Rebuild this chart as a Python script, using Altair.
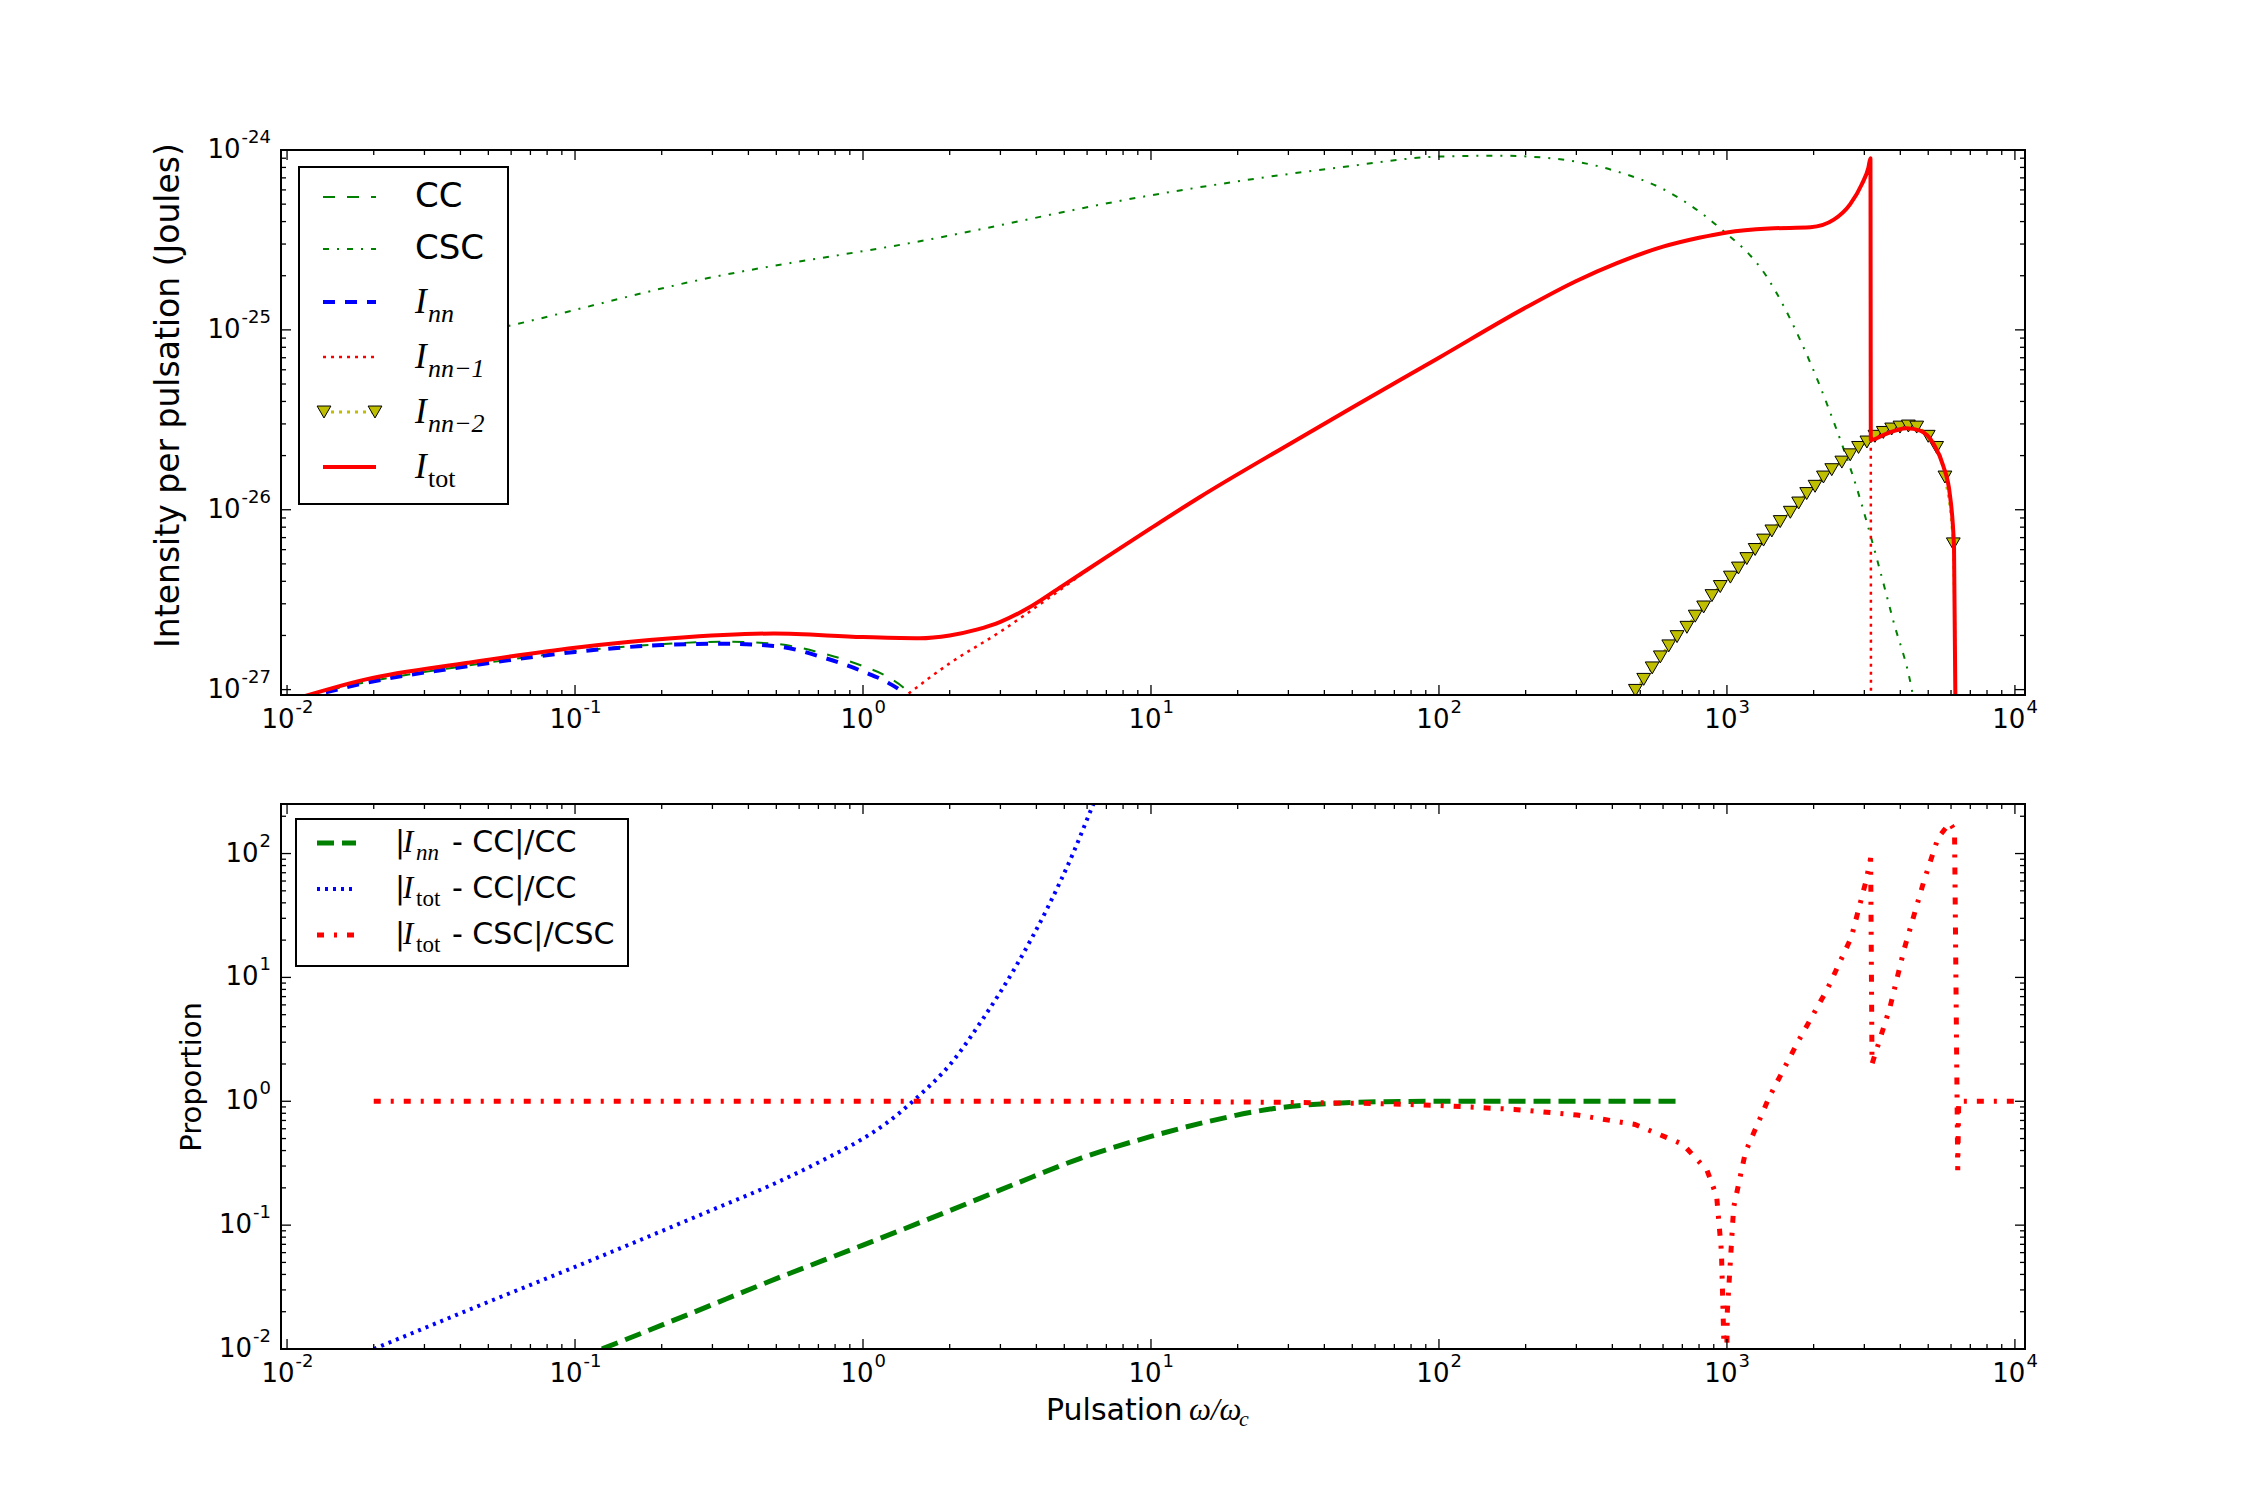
import altair as alt
import pandas as pd

# ---------------- data ----------------
# Upper panel : intensity per pulsation (J) vs omega/omega_c
CC_X = [0.0115, 0.0188, 0.0425, 0.1, 0.2, 0.326, 0.49, 0.736, 1.0, 1.225, 1.44, 1.6]
CC_Y = [9.2e-28, 1.10e-27, 1.36e-27, 1.63e-27, 1.79e-27, 1.845e-27, 1.80e-27, 1.58e-27,
        1.35e-27, 1.17e-27, 9.6e-28, 7.5e-28]

CSC_X = [0.03, 0.057, 0.29, 1.56, 10, 45, 101, 160, 244, 415, 620, 923, 1376, 1845,
         2345, 2824, 3310, 3785, 4384, 4700]
CSC_Y = [8.3e-26, 1.04e-25, 1.94e-25, 3.1e-25, 5.6e-25, 8.0e-25, 9.2e-25, 9.3e-25, 9.0e-25,
         7.6e-25, 5.9e-25, 3.8e-25, 1.97e-25, 8.0e-26, 3.1e-26, 1.32e-26, 5.4e-27, 2.4e-27,
         1.0e-27, 5.0e-28]

INN_X = [0.0115, 0.0188, 0.0425, 0.1, 0.2, 0.326, 0.49, 0.736, 1.0, 1.225, 1.39, 1.5]
INN_Y = [9.0e-28, 1.09e-27, 1.35e-27, 1.62e-27, 1.77e-27, 1.80e-27, 1.75e-27, 1.50e-27,
         1.26e-27, 1.09e-27, 9.5e-28, 8.3e-28]

INN1_X = [1.44, 2.0, 3.0, 4.5, 6.0, 7.0, 10, 14.7, 30, 50, 100, 200, 300, 415, 600, 800,
          1000, 1400, 1950, 2350, 2680, 2940, 3100, 3150, 3165]
INN1_Y = [9.5e-28, 1.4e-27, 2.1e-27, 3.3e-27, 4.6e-27, 5.45e-27, 7.9e-27, 1.17e-26, 2.3e-26,
          3.7e-26, 7.0e-26, 1.33e-25, 1.87e-25, 2.35e-25, 2.9e-25, 3.25e-25, 3.48e-25,
          3.66e-25, 3.72e-25, 4.1e-25, 5.0e-25, 6.45e-25, 8.0e-25, 9.0e-25, 1e-28]

INN2_X = [481, 514, 550, 587, 628, 671, 726, 776, 830, 887, 948, 1028, 1096, 1172, 1253,
          1340, 1432, 1531, 1660, 1774, 1892, 2023, 2163, 2312, 2506, 2679, 2864, 3062,
          3266, 3491, 3733, 3990, 4266, 4560, 5000, 5346, 5715, 6109, 6290]
INN2_Y = [9.9e-28, 1.14e-27, 1.32e-27, 1.52e-27, 1.75e-27, 1.97e-27, 2.22e-27, 2.56e-27,
          2.88e-27, 3.33e-27, 3.74e-27, 4.22e-27, 4.74e-27, 5.35e-27, 6.01e-27, 6.78e-27,
          7.62e-27, 8.59e-27, 9.68e-27, 1.09e-26, 1.23e-26, 1.35e-26, 1.52e-26, 1.67e-26,
          1.84e-26, 2.02e-26, 2.22e-26, 2.38e-26, 2.56e-26, 2.69e-26, 2.81e-26, 2.88e-26,
          2.92e-26, 2.88e-26, 2.56e-26, 2.22e-26, 1.52e-26, 6.46e-27, 1e-28]

TOT_X = [0.0115, 0.0188, 0.0425, 0.1, 0.217, 0.49, 1.0, 1.57, 2.0, 2.5, 3.0, 3.76, 4.9, 7.0,
         10, 14.7, 30, 50, 100, 200, 300, 415, 600, 800, 1000, 1400, 1950, 2350, 2680, 2940,
         3100, 3150, 3160, 3490, 4205, 4690, 5210, 5640, 5950, 6145, 6290]
TOT_Y = [9.2e-28, 1.14e-27, 1.41e-27, 1.71e-27, 1.93e-27, 2.05e-27, 1.96e-27, 1.93e-27,
         2.0e-27, 2.16e-27, 2.38e-27, 2.85e-27, 3.75e-27, 5.45e-27, 7.9e-27, 1.17e-26,
         2.3e-26, 3.7e-26, 7.0e-26, 1.33e-25, 1.87e-25, 2.35e-25, 2.9e-25, 3.25e-25,
         3.48e-25, 3.66e-25, 3.72e-25, 4.1e-25, 5.0e-25, 6.45e-25, 8.0e-25, 9.0e-25,
         2.44e-26, 2.6e-26, 2.84e-26, 2.75e-26, 2.33e-26, 1.75e-26, 1.2e-26, 6.2e-27, 1e-28]

# Lower panel : relative differences
R_NN_CC_X = [0.124, 0.25, 0.5, 1.0, 2.0, 3.39, 5.66, 10, 15.8, 26.4, 44, 73.5, 120, 667]
R_NN_CC_Y = [0.01, 0.0192, 0.037, 0.069, 0.131, 0.216, 0.345, 0.52, 0.686, 0.87, 0.966,
             0.995, 1.0, 1.0]

R_TOT_CC_X = [0.02, 0.05, 0.1, 0.3, 0.5, 0.727, 1.0, 1.2, 1.49, 2.03, 2.62, 3.39, 4.38,
              5.38, 6.27, 6.6]
R_TOT_CC_Y = [0.01, 0.024, 0.046, 0.133, 0.22, 0.335, 0.5, 0.66, 1.0, 2.05, 4.7, 12.2,
              36.7, 102, 242, 320]

R_TOT_CSC_X = [0.02, 10, 30, 60, 100, 183, 302, 479, 703, 853, 921, 957, 976, 990, 1003,
               1055, 1160, 1405, 1771, 2229, 2702, 3035, 3155, 3190, 3680, 4130, 4820, 5410,
               5945, 6170, 6330, 6380, 10500]
R_TOT_CSC_Y = [1.0, 1.0, 0.98, 0.96, 0.925, 0.86, 0.775, 0.65, 0.45, 0.277, 0.171, 0.061,
               0.011, 0.002, 0.02, 0.139, 0.39, 1.09, 3.07, 8.0, 21, 59, 92, 2.0, 5.7, 17.1,
               59, 134, 177, 154, 0.277, 1.0, 1.0]

# axis decades (tick labels are 10^decade)
X_DECADES = [-2, -1, 0, 1, 2, 3, 4]
Y_TOP_DECADES = [-27, -26, -25, -24]
Y_BOT_DECADES = [-2, -1, 0, 1, 2]

# ---------------- styling / layout ----------------
W, H = 1744, 545
X_DOMAIN = [10 ** -2.021, 10 ** 4.035]
Y_TOP_DOMAIN = [10 ** -27.03, 1e-24]
Y_BOT_DOMAIN = [1e-2, 10 ** 2.4]

GREEN, BLUE, RED, OLIVE = "#008000", "#0000ff", "#ff0000", "#bfbf00"
SANS, SERIF = "DejaVu Sans", "Liberation Serif"
ONE = pd.DataFrame({"k": [0]})
LAB, EXP = 26, 18          # tick label sizes (mantissa, exponent)

XS = alt.Scale(type="log", domain=X_DOMAIN, nice=False)
YS_T = alt.Scale(type="log", domain=Y_TOP_DOMAIN, nice=False)
YS_B = alt.Scale(type="log", domain=Y_BOT_DOMAIN, nice=False)


def minor_ticks(decades, lo, hi):
    vals = []
    for e in range(decades[0] - 1, decades[-1] + 1):
        for m in range(2, 10):
            v = m * 10.0 ** e
            if lo <= v <= hi:
                vals.append(v)
    return vals


X_AXIS = alt.Axis(labels=False, ticks=False, domain=False, grid=False, title=None)


def y_axis(title, size, pad, extent, title_y=None):
    kw = dict(labels=False, ticks=False, domain=False, grid=False, title=title, titleFont=SANS,
              titleFontSize=size, titleFontWeight="normal", titleColor="black",
              titlePadding=pad, minExtent=extent, maxExtent=extent)
    if title_y is not None:
        kw["titleY"] = title_y
    return alt.Axis(**kw)


Y_AXIS_T = y_axis("Intensity per pulsation (Joules)", 33, 20, 76, title_y=245)
Y_AXIS_B = y_axis("Proportion", 29, 15, 60)


def curve(xv, yv, ys, ya, color, width, dash=None, interp="monotone"):
    kw = dict(color=color, strokeWidth=width, clip=True, interpolate=interp)
    if dash:
        kw["strokeDash"] = dash
    return alt.Chart(pd.DataFrame({"x": xv, "y": yv})).mark_line(**kw).encode(
        x=alt.X("x:Q", scale=XS, axis=X_AXIS), y=alt.Y("y:Q", scale=ys, axis=ya))


def tick_layers(ys, ya, ydec, ydom):
    out = []
    xmaj = pd.DataFrame({"v": [10.0 ** e for e in X_DECADES]})
    xmin = pd.DataFrame({"v": minor_ticks(X_DECADES, *X_DOMAIN)})
    ymaj = pd.DataFrame({"v": [10.0 ** e for e in ydec]})
    ymin = pd.DataFrame({"v": minor_ticks(ydec, *ydom)})
    for d, L in ((xmaj, 10), (xmin, 5)):
        b = alt.Chart(d).mark_rule(color="black", strokeWidth=1.3)
        out.append(b.encode(x=alt.X("v:Q", scale=XS, axis=X_AXIS), y=alt.value(H - L), y2=alt.value(H)))
        out.append(b.encode(x=alt.X("v:Q", scale=XS, axis=X_AXIS), y=alt.value(0), y2=alt.value(L)))
    for d, L in ((ymaj, 10), (ymin, 5)):
        b = alt.Chart(d).mark_rule(color="black", strokeWidth=1.3)
        out.append(b.encode(y=alt.Y("v:Q", scale=ys, axis=ya), x=alt.value(0), x2=alt.value(L)))
        out.append(b.encode(y=alt.Y("v:Q", scale=ys, axis=ya), x=alt.value(W - L), x2=alt.value(W)))
    return out


def exp_frame(decs, keep):
    sel = [e for e in decs if keep(e)]
    return pd.DataFrame({"v": [10.0 ** e for e in sel], "e": [str(e) for e in sel]})


def x_labels():
    out = []
    for keep, dxb in ((lambda e: e < 0, 7.5), (lambda e: e >= 0, 10.5)):
        d = exp_frame(X_DECADES, keep)
        out.append(alt.Chart(d).mark_text(text="10", font=SANS, fontSize=LAB, align="right",
                                          baseline="middle", dx=dxb, color="black").encode(
            x=alt.X("v:Q", scale=XS, axis=X_AXIS), y=alt.value(H + 25)))
        out.append(alt.Chart(d).mark_text(font=SANS, fontSize=EXP, align="left", baseline="middle",
                                          dx=dxb + 1, color="black").encode(
            x=alt.X("v:Q", scale=XS, axis=X_AXIS), y=alt.value(H + 13), text="e:N"))
    return out


def y_labels(decs, ys, ya):
    out = []
    for keep, wexp in ((lambda e: e <= -10, 29.5), (lambda e: -10 < e < 0, 18), (lambda e: e >= 0, 11.5)):
        d = exp_frame(decs, keep)
        if len(d) == 0:
            continue
        out.append(alt.Chart(d).mark_text(text="10", font=SANS, fontSize=LAB, align="right",
                                          baseline="middle", color="black").encode(
            y=alt.Y("v:Q", scale=ys, axis=ya), x=alt.value(-11 - wexp)))
        out.append(alt.Chart(d).mark_text(font=SANS, fontSize=EXP, align="right", baseline="middle",
                                          dy=-12, color="black").encode(
            y=alt.Y("v:Q", scale=ys, axis=ya), x=alt.value(-10), text="e:N"))
    return out


def frame():
    return alt.Chart(ONE).mark_rect(fill="white", fillOpacity=0, stroke="black", strokeWidth=2).encode(
        x=alt.value(0), x2=alt.value(W), y=alt.value(0), y2=alt.value(H))


def box(x1, y1, x2, y2):
    return alt.Chart(ONE).mark_rect(fill="white", stroke="black", strokeWidth=2).encode(
        x=alt.value(x1), x2=alt.value(x2), y=alt.value(y1), y2=alt.value(y2))


def sample(x1, x2, y, color, width, dash=None):
    kw = dict(color=color, strokeWidth=width)
    if dash:
        kw["strokeDash"] = dash
    return alt.Chart(ONE).mark_rule(**kw).encode(x=alt.value(x1), x2=alt.value(x2), y=alt.value(y))


def txt(s, x, y, size, font=SANS, style="normal"):
    return alt.Chart(ONE).mark_text(text=s, font=font, fontSize=size, fontStyle=style,
                                    align="left", baseline="middle", color="black").encode(
        x=alt.value(x), y=alt.value(y))


def tri(x, y):
    return alt.Chart(ONE).mark_point(shape="triangle-down", filled=True, fill=OLIVE, stroke="black",
                                     strokeWidth=1, size=190, opacity=1).encode(
        x=alt.value(x), y=alt.value(y))


# ---------------- upper panel ----------------
inn2_markers = alt.Chart(pd.DataFrame({"x": INN2_X[:-1], "y": INN2_Y[:-1]})).mark_point(
    shape="triangle-down", filled=True, fill=OLIVE, stroke="black", strokeWidth=1, size=190,
    opacity=1, clip=True).encode(x=alt.X("x:Q", scale=XS, axis=X_AXIS),
                                 y=alt.Y("y:Q", scale=YS_T, axis=Y_AXIS_T))

top_layers = [
    curve(CC_X, CC_Y, YS_T, Y_AXIS_T, GREEN, 2, [12, 12]),
    curve(CSC_X, CSC_Y, YS_T, Y_AXIS_T, GREEN, 2, [6, 8, 2, 8]),
    curve(INN_X, INN_Y, YS_T, Y_AXIS_T, BLUE, 4, [12, 10]),
    curve(INN1_X, INN1_Y, YS_T, Y_AXIS_T, RED, 2.5, [3, 5]),
    curve(INN2_X, INN2_Y, YS_T, Y_AXIS_T, OLIVE, 3, [3, 5]),
    inn2_markers,
    curve(TOT_X, TOT_Y, YS_T, Y_AXIS_T, RED, 4),
]
top_layers += tick_layers(YS_T, Y_AXIS_T, Y_TOP_DECADES, Y_TOP_DOMAIN)
top_layers += x_labels() + y_labels(Y_TOP_DECADES, YS_T, Y_AXIS_T)
top_layers += [
    frame(),
    box(18, 17, 227, 354),
    sample(42, 95, 47, GREEN, 2, [12, 12]),
    sample(42, 95, 99, GREEN, 2, [6, 8, 2, 8]),
    sample(42, 95, 152, BLUE, 4, [12, 10]),
    sample(42, 95, 207, RED, 2.5, [3, 5]),
    sample(42, 95, 262, OLIVE, 3, [3, 5]),
    tri(43, 262), tri(94, 262),
    sample(42, 95, 317, RED, 4),
    txt("CC", 134, 47, 34),
    txt("CSC", 134, 99, 34),
    txt("I", 134, 152, 35, SERIF, "italic"), txt("nn", 147, 164, 26, SERIF, "italic"),
    txt("I", 134, 207, 35, SERIF, "italic"), txt("nn\u22121", 147, 219, 26, SERIF, "italic"),
    txt("I", 134, 262, 35, SERIF, "italic"), txt("nn\u22122", 147, 274, 26, SERIF, "italic"),
    txt("I", 134, 317, 35, SERIF, "italic"), txt("tot", 147, 329, 26, SERIF),
]
top = alt.layer(*top_layers).properties(width=W, height=H)

# ---------------- lower panel ----------------
bot_layers = [
    curve(R_NN_CC_X, R_NN_CC_Y, YS_B, Y_AXIS_B, GREEN, 5, [17, 8]),
    curve(R_TOT_CC_X, R_TOT_CC_Y, YS_B, Y_AXIS_B, BLUE, 4, [3, 5]),
    curve(R_TOT_CSC_X, R_TOT_CSC_Y, YS_B, Y_AXIS_B, RED, 5, [7, 10, 3, 10], interp="linear"),
]
bot_layers += tick_layers(YS_B, Y_AXIS_B, Y_BOT_DECADES, Y_BOT_DOMAIN)
bot_layers += x_labels() + y_labels(Y_BOT_DECADES, YS_B, Y_AXIS_B)
bot_layers += [
    frame(),
    box(15, 15, 347, 162),
    sample(36, 75, 39, GREEN, 5, [17, 8]),
    sample(36, 75, 85, BLUE, 4, [3, 5]),
    sample(36, 75, 131, RED, 5, [7, 10, 3, 10]),
]
for yy, sub, rest in ((39, "nn", "- CC|/CC"), (85, "tot", "- CC|/CC"), (131, "tot", "- CSC|/CSC")):
    bot_layers += [
        txt("|", 114, yy, 30),
        txt("I", 122, yy, 31, SERIF, "italic"),
        txt(sub, 135, yy + 10, 23, SERIF, "italic" if sub == "nn" else "normal"),
        txt(rest, 171, yy, 30),
    ]
bot_layers += [
    txt("Pulsation", 765, H + 62, 30),
    txt("\u03c9/\u03c9", 908, H + 62, 31, SERIF, "italic"),
    txt("c", 958, H + 70, 22, SERIF, "italic"),
]
bottom = alt.layer(*bot_layers).properties(width=W, height=H)

chart = alt.vconcat(top, bottom, spacing=109, bounds="flush").properties(
    padding={"left": 151, "top": 129, "right": 150, "bottom": 40}
).configure_view(stroke=None)

chart.save("out.html", embed_options={"renderer": "svg", "actions": False})
